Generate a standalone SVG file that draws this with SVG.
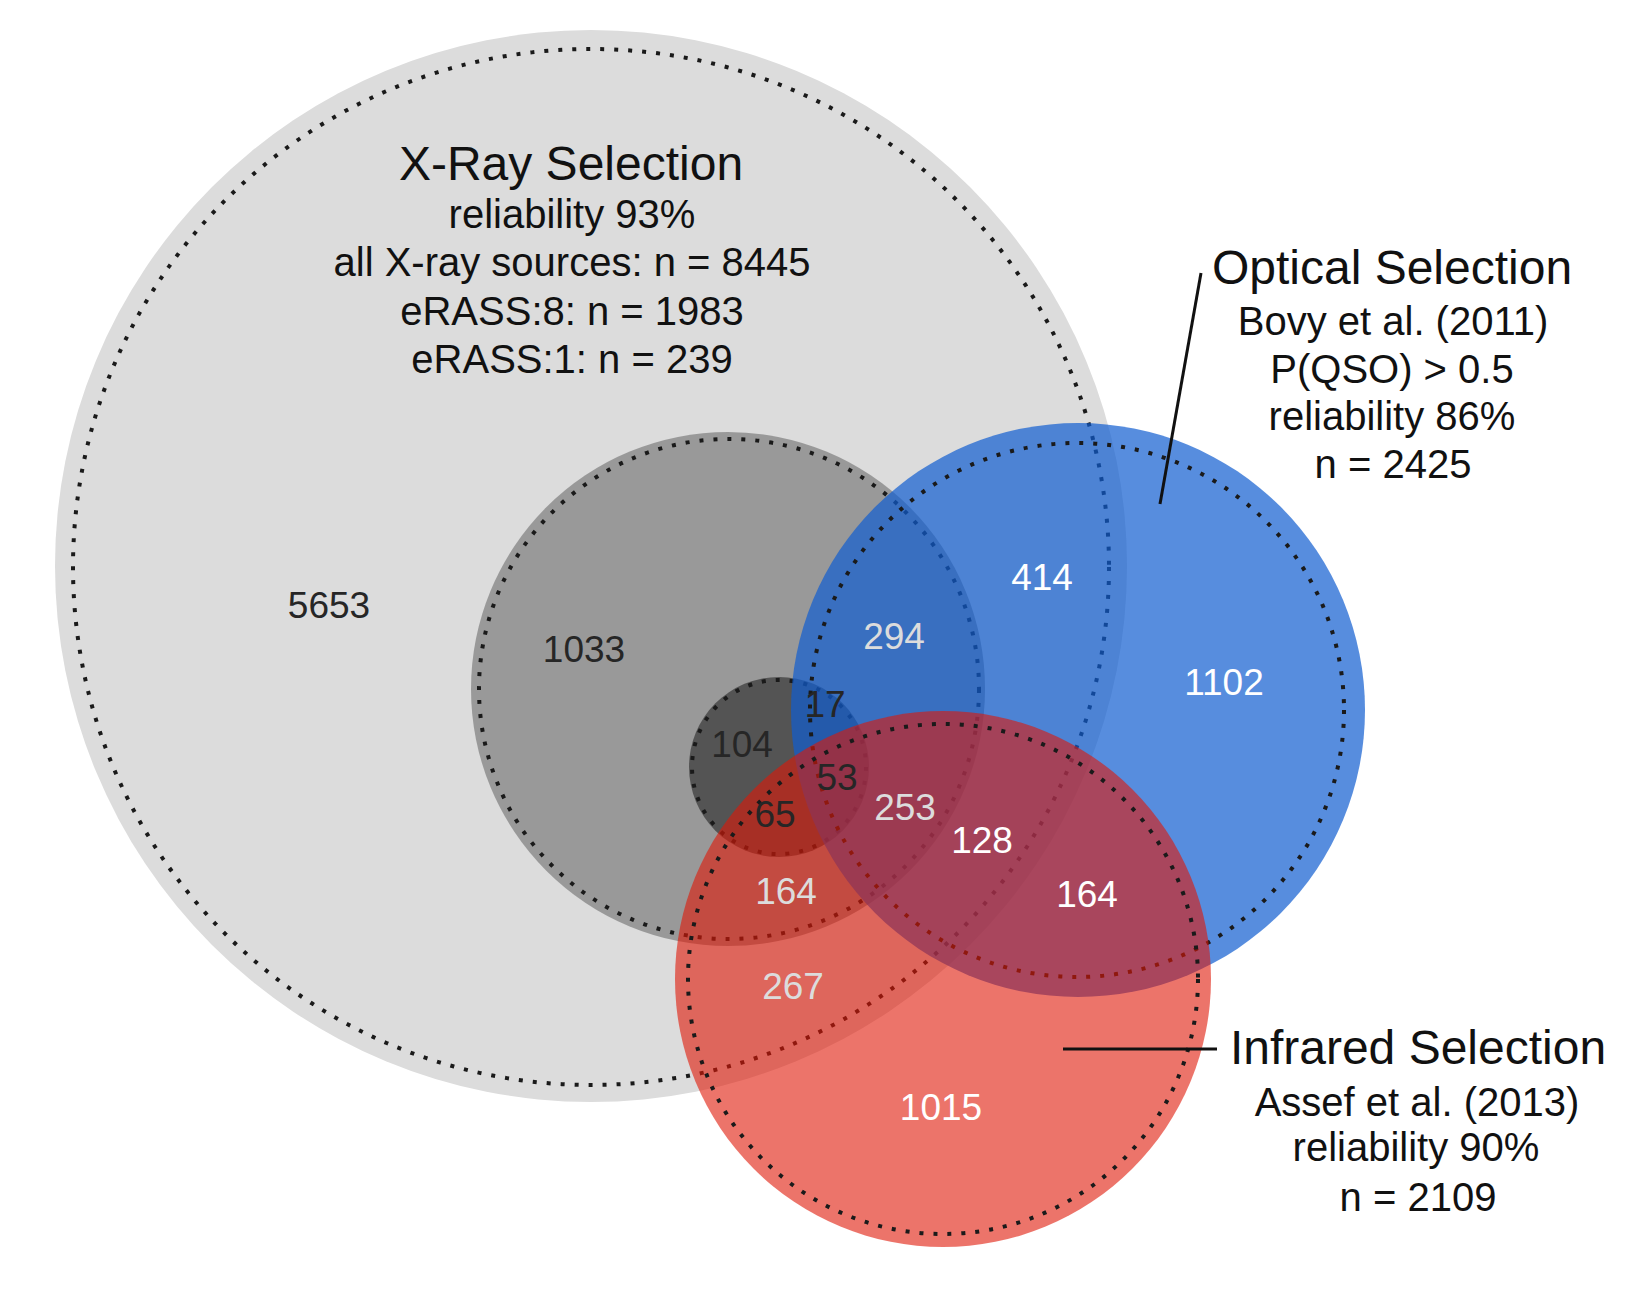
<svg xmlns="http://www.w3.org/2000/svg" width="1636" height="1290" viewBox="0 0 1636 1290">
<style>
.dot{fill:none;stroke:#1a1a1a;stroke-width:4;stroke-dasharray:4 10}
.title{font-family:"Liberation Sans",Arial,sans-serif;font-size:48px;fill:#111;text-anchor:middle}
.sub{font-family:"Liberation Sans",Arial,sans-serif;font-size:40px;fill:#111;text-anchor:middle}
.num{font-family:"Liberation Sans",Arial,sans-serif;font-size:37px;text-anchor:middle}
.dk{fill:#262626}
.lt{fill:#dcdcdc}
.wh{fill:#ffffff}
.lead{stroke:#111;stroke-width:3;fill:none}
</style>
<rect width="1636" height="1290" fill="#ffffff"/>
<g id="xray">
<circle cx="591" cy="566" r="536" fill="#dcdcdc"/>
<circle class="dot" cx="591" cy="567" r="518"/>
<text class="title" x="571" y="180">X-Ray Selection</text>
<text class="sub" x="572" y="228">reliability 93%</text>
<text class="sub" x="572" y="276">all X-ray sources: n = 8445</text>
<text class="sub" x="572" y="325">eRASS:8: n = 1983</text>
<text class="sub" x="572" y="373">eRASS:1: n = 239</text>
</g>
<g id="erass8">
<circle cx="728" cy="689" r="257" fill="#000" fill-opacity="0.3"/>
<circle class="dot" cx="729" cy="689" r="250"/>
</g>
<g id="erass1">
<circle cx="779" cy="767" r="90" fill="#000" fill-opacity="0.45"/>
<circle class="dot" cx="779" cy="767" r="87"/>
</g>
<g id="optical">
<circle cx="1078" cy="710" r="287" fill="rgb(16,92,208)" fill-opacity="0.7"/>
<circle class="dot" cx="1077" cy="710" r="267"/>
<text class="title" x="1392" y="284">Optical Selection</text>
<text class="sub" x="1393" y="335">Bovy et al. (2011)</text>
<text class="sub" x="1392" y="383">P(QSO) &gt; 0.5</text>
<text class="sub" x="1392" y="430">reliability 86%</text>
<text class="sub" x="1393" y="478">n = 2425</text>
</g>
<g id="infrared">
<circle cx="943" cy="979" r="268" fill="rgb(223,23,7)" fill-opacity="0.6"/>
<circle class="dot" cx="943" cy="979" r="255"/>
<text class="title" x="1418" y="1064">Infrared Selection</text>
<text class="sub" x="1417" y="1116">Assef et al. (2013)</text>
<text class="sub" x="1416" y="1161">reliability 90%</text>
<text class="sub" x="1418" y="1211">n = 2109</text>
</g>
<g id="connectors">
<line class="lead" x1="1201" y1="273" x2="1160" y2="504"/>
<line class="lead" x1="1063" y1="1049" x2="1217" y2="1049"/>
</g>
<g id="counts">
<text class="num dk" x="329" y="618">5653</text>
<text class="num dk" x="584" y="662">1033</text>
<text class="num dk" x="742" y="757">104</text>
<text class="num dk" x="825" y="717">17</text>
<text class="num dk" x="837" y="790">53</text>
<text class="num dk" x="775" y="827">65</text>
<text class="num lt" x="894" y="649">294</text>
<text class="num wh" x="1042" y="590">414</text>
<text class="num wh" x="1224" y="695">1102</text>
<text class="num lt" x="905" y="820">253</text>
<text class="num wh" x="982" y="853">128</text>
<text class="num lt" x="786" y="904">164</text>
<text class="num wh" x="1087" y="907">164</text>
<text class="num lt" x="793" y="999">267</text>
<text class="num wh" x="941" y="1120">1015</text>
</g>
</svg>
